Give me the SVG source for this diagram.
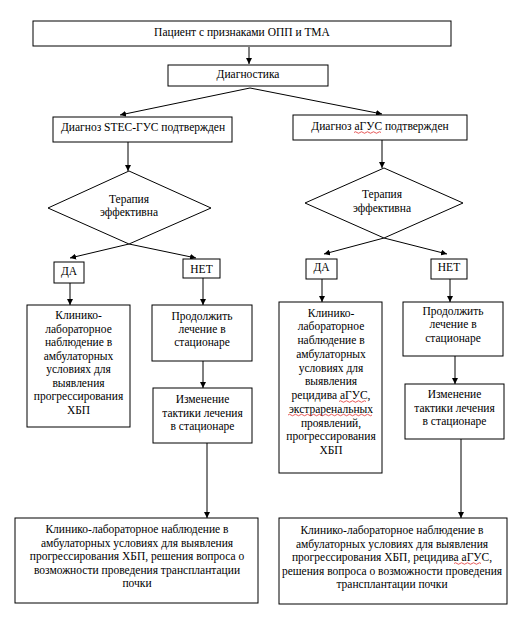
<svg xmlns="http://www.w3.org/2000/svg" width="528" height="638" viewBox="0 0 528 638">
<style>
.b{fill:#fff;stroke:#000;stroke-width:1}
.c{stroke:#000;stroke-width:1;fill:none}
.w{stroke:#e03030;stroke-width:0.8;fill:none}
</style>
<defs>
<marker id="a" viewBox="0 0 8 8" refX="8" refY="4" markerWidth="6" markerHeight="6" markerUnits="userSpaceOnUse" orient="auto">
<path d="M0,0 L8,4 L0,8 z" fill="#000"/>
</marker>
</defs>
<rect width="528" height="638" fill="#fff"/>
<g id="connectors">
<line class="c" x1="249" y1="47" x2="249" y2="64" marker-end="url(#a)"/>
<line class="c" x1="250" y1="88" x2="120" y2="115" marker-end="url(#a)"/>
<line class="c" x1="250" y1="88" x2="382" y2="114" marker-end="url(#a)"/>
<line class="c" x1="128" y1="142" x2="128" y2="171" marker-end="url(#a)"/>
<line class="c" x1="382" y1="140" x2="382" y2="168" marker-end="url(#a)"/>
<line class="c" x1="129" y1="244" x2="70" y2="258" marker-end="url(#a)"/>
<line class="c" x1="129" y1="244" x2="196" y2="258" marker-end="url(#a)"/>
<line class="c" x1="384" y1="238" x2="324" y2="254" marker-end="url(#a)"/>
<line class="c" x1="384" y1="238" x2="447" y2="254" marker-end="url(#a)"/>
<line class="c" x1="70" y1="283" x2="70" y2="305" marker-end="url(#a)"/>
<line class="c" x1="203" y1="278" x2="203" y2="305" marker-end="url(#a)"/>
<line class="c" x1="203" y1="361" x2="203" y2="388" marker-end="url(#a)"/>
<line class="c" x1="207" y1="443" x2="207" y2="518" marker-end="url(#a)"/>
<line class="c" x1="322" y1="279" x2="322" y2="302" marker-end="url(#a)"/>
<line class="c" x1="450" y1="279" x2="450" y2="302" marker-end="url(#a)"/>
<line class="c" x1="455" y1="356" x2="455" y2="384" marker-end="url(#a)"/>
<line class="c" x1="461" y1="439" x2="461" y2="518" marker-end="url(#a)"/>
</g>
<g font-family="Liberation Serif, Times New Roman, serif" font-size="11.5" text-anchor="middle" fill="#000">
<g id="n-patient">
<rect class="b" x="33" y="21" width="418" height="25"/>
<text x="242" y="35.5">Пациент с признаками ОПП и ТМА</text>
</g>
<g id="n-diag">
<rect class="b" x="168" y="65" width="160" height="21"/>
<text x="248" y="78">Диагностика</text>
</g>
<g id="n-stec">
<rect class="b" x="53" y="117" width="179" height="25"/>
<text x="143" y="131">Диагноз STEC-ГУС подтвержден</text>
</g>
<g id="n-agus">
<rect class="b" x="293" y="115" width="174" height="25"/>
<text x="380" y="130">Диагноз аГУС подтвержден</text>
<path class="w" d="M354,132.5 q1.5,-1.5 3,0 t3,0 t3,0 t3,0 t3,0 t3,0 t3,0 t3,0 t3,0"/>
</g>
<g id="n-dec1">
<polygon class="b" points="129,171 211,208 129,244 48,208"/>
<text x="129" y="203">Терапия</text>
<text x="129" y="216">эффективна</text>
</g>
<g id="n-dec2">
<polygon class="b" points="384,168 463,203 384,238 305,203"/>
<text x="382" y="198">Терапия</text>
<text x="382" y="212">эффективна</text>
</g>
<g id="n-yes1">
<rect class="b" x="54" y="262" width="30" height="21"/>
<text x="69" y="275">ДА</text>
</g>
<g id="n-no1">
<rect class="b" x="183" y="259" width="37" height="19"/>
<text x="201.5" y="272.5">НЕТ</text>
</g>
<g id="n-yes2">
<rect class="b" x="306" y="259" width="31" height="20"/>
<text x="321.5" y="271">ДА</text>
</g>
<g id="n-no2">
<rect class="b" x="431" y="259" width="36" height="20"/>
<text x="449" y="271">НЕТ</text>
</g>
<g id="n-obs1">
<rect class="b" x="27" y="305" width="103" height="122"/>
<text x="78.5" y="319">Клинико-</text>
<text x="78.5" y="332.5">лабораторное</text>
<text x="78.5" y="346">наблюдение в</text>
<text x="78.5" y="359.5">амбулаторных</text>
<text x="78.5" y="373">условиях для</text>
<text x="78.5" y="386.5">выявления</text>
<text x="78.5" y="400">прогрессирования</text>
<text x="78.5" y="413.5">ХБП</text>
</g>
<g id="n-cont1">
<rect class="b" x="152" y="305" width="100" height="56"/>
<text x="202" y="320">Продолжить</text>
<text x="202" y="333">лечение в</text>
<text x="202" y="346">стационаре</text>
</g>
<g id="n-chg1">
<rect class="b" x="153" y="388" width="99" height="55"/>
<text x="202.5" y="403">Изменение</text>
<text x="202.5" y="416.5">тактики лечения</text>
<text x="202.5" y="430">в стационаре</text>
</g>
<g id="n-obs2">
<rect class="b" x="279" y="302" width="103" height="171"/>
<text x="331" y="316.5">Клинико-</text>
<text x="331" y="330.3">лабораторное</text>
<text x="331" y="344">наблюдение в</text>
<text x="331" y="357.8">амбулаторных</text>
<text x="331" y="371.5">условиях для</text>
<text x="331" y="385.3">выявления</text>
<text x="331" y="399">рецидива аГУС,</text>
<text x="331" y="412.8">экстраренальных</text>
<text x="331" y="426.5">проявлений,</text>
<text x="331" y="440.3">прогрессирования</text>
<text x="331" y="454">ХБП</text>
<path class="w" d="M339,401.5 q1.5,-1.5 3,0 t3,0 t3,0 t3,0 t3,0 t3,0 t3,0 t3,0 t3,0"/>
<path class="w" d="M288,415 q1.5,-1.5 3,0 t3,0 t3,0 t3,0 t3,0 t3,0 t3,0 t3,0 t3,0 t3,0 t3,0 t3,0 t3,0 t3,0 t3,0 t3,0 t3,0 t3,0 t3,0 t3,0 t3,0 t3,0 t3,0 t3,0 t3,0 t3,0 t3,0 t3,0"/>
</g>
<g id="n-cont2">
<rect class="b" x="403" y="302" width="100" height="54"/>
<text x="453" y="314.5">Продолжить</text>
<text x="453" y="328">лечение в</text>
<text x="453" y="341.5">стационаре</text>
</g>
<g id="n-chg2">
<rect class="b" x="405" y="384" width="99" height="55"/>
<text x="454.5" y="398">Изменение</text>
<text x="454.5" y="412">тактики лечения</text>
<text x="454.5" y="425">в стационаре</text>
</g>
<g id="n-final1">
<rect class="b" x="15" y="518" width="243" height="85"/>
<text x="137" y="533">Клинико-лабораторное наблюдение в</text>
<text x="137" y="546.5">амбулаторных условиях для выявления</text>
<text x="137" y="560">прогрессирования ХБП, решения вопроса о</text>
<text x="137" y="573.5">возможности проведения трансплантации</text>
<text x="137" y="587">почки</text>
</g>
<g id="n-final2">
<rect class="b" x="279" y="518" width="228" height="86"/>
<text x="392" y="534">Клинико-лабораторное наблюдение в</text>
<text x="392" y="547.5">амбулаторных условиях для выявления</text>
<text x="392" y="561">прогрессирования ХБП, рецидива аГУС,</text>
<text x="392" y="574.5">решения вопроса о возможности проведения</text>
<text x="392" y="588">трансплантации почки</text>
<path class="w" d="M454,563.5 q1.5,-1.5 3,0 t3,0 t3,0 t3,0 t3,0 t3,0 t3,0 t3,0 t3,0"/>
</g>
</g>
</svg>
